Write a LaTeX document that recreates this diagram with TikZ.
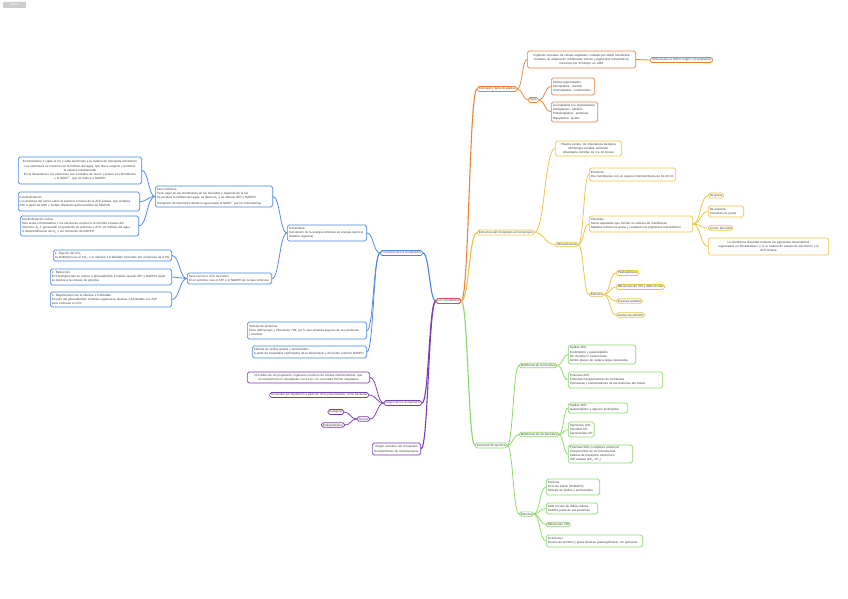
\documentclass[tikz,border=0pt]{standalone}
\usepackage{fontspec}
\setmainfont{Liberation Sans}
\usetikzlibrary{calc}
\definecolor{txt}{HTML}{3C3C3C}
\definecolor{oc}{HTML}{E8843C}
\definecolor{yc}{HTML}{E9C440}
\definecolor{gc}{HTML}{8AD867}
\definecolor{pc}{HTML}{7B3CB8}
\definecolor{bc}{HTML}{4B87E2}
\definecolor{rc}{HTML}{D94A60}
\newcommand{\fs}{\fontsize{3}{4.2}\selectfont}
\newcommand{\sbs}[1]{\textsubscript{#1}}
\newcommand{\Rgt}[3]{\draw[ln=#1] (#2.east) to[sc] (#3.west);}
\newcommand{\Lft}[3]{\draw[ln=#1] (#2.west) to[sc] (#3.east);}
\begin{document}
\begin{tikzpicture}[x=1pt,y=-1pt,
 bx/.style={draw=#1, rounded corners=1.8pt, fill=white, line width=0.7pt, inner xsep=1.4pt, inner ysep=1.1pt, font=\fs, text=txt, align=left, anchor=west},
 cb/.style={bx=#1, align=center},
 ln/.style={draw=#1, line width=0.75pt},
 mln/.style={draw=#1, line width=1.1pt},
 sc/.style={to path={let \p1=(\tikztostart), \p2=(\tikztotarget) in .. controls ({0.5*\x1+0.5*\x2},\y1) and ({0.5*\x1+0.5*\x2},\y2) .. (\p2)}}
]
\fill[white] (0,0) rectangle (848,599);
\useasboundingbox (0,0) rectangle (848,599);

% logo
\node[fill=black!20, text=white, font=\fontsize{2.6}{3}\selectfont, inner sep=0.8pt, minimum width=23pt, minimum height=6pt, anchor=west, rounded corners=0.6pt] (logo) at (3,5) {XMIND};

% central
\node[bx=rc, line width=0.9pt, anchor=center] (C) at (448.5,301) {Los cloroplastos};

% ---------- orange
\node[bx=oc] (oC) at (477,89) {Concepto y tipos de plastos};
\node[cb=oc, text width=105.5pt, minimum height=17pt] (oT) at (527,59.5) {Orgánulo exclusivo de células vegetales, rodeado por doble membrana\\ Contiene un sistema de membranas interno y pigmentos fotosintéticos\\ Descritos por Schimper en 1883};
\node[bx=oc] (oR) at (650,60) {Todos tienen el mismo origen: los proplastos};
\node[bx=oc] (oTi) at (528,100) {Tipos};
\node[bx=oc, text width=40.5pt, minimum height=17pt] (oP) at (551,86.5) {Plastos pigmentados\\ Cloroplastos: clorofila\\ Cromoplastos: carotenoides};
\node[bx=oc, text width=43.5pt, minimum height=20pt] (oN) at (551,112) {Leucoplastos (no pigmentados)\\ Amiloplastos: almidón\\ Proteinoplastos: proteínas\\ Oleoplastos: lípidos};

% ---------- yellow
\node[bx=yc] (yE) at (477,232.5) {Estructura del cloroplasto al microscopio};
\node[cb=yc, text width=63.5pt, minimum height=15pt] (yT) at (555,148.5) {Plastos verdes, de importancia biológica\\ Morfología variable, lenticular\\ Abundante clorofila; de 4 a 10 micras};
\node[bx=yc] (yU) at (555,244.5) {Ultraestructura};
\node[bx=yc, text width=83.5pt, minimum height=13pt] (yEn) at (589,174.5) {Envoltura\\ Dos membranas con un espacio intermembrana de 10-20 nm};
\node[bx=yc, text width=100.5pt, minimum height=16pt] (yTi) at (589,224) {Tilacoides\\ Sacos aplanados que forman un sistema de membranas\\ Apilados forman los grana y contienen los pigmentos fotosintéticos};
\node[bx=yc] (yG) at (708,195.5) {De grana};
\node[bx=yc, text width=32.5pt, minimum height=11pt] (yDe) at (708,211.5) {De estroma\\ Conectan los grana};
\node[bx=yc] (yEs) at (708,228) {Lumen tilacoidal};
\node[cb=yc, text width=117.5pt, minimum height=17pt] (yB) at (708,246.5) {La membrana tilacoidal contiene los pigmentos fotosintéticos\\ organizados en fotosistemas I y II, la cadena de transporte electrónico y la\\ ATP-sintasa};
\node[bx=yc] (ySt) at (589,294.5) {Estroma};
\node[bx=yc] (yP1) at (616,273) {Plastoglóbulos};
\node[bx=yc] (yP2) at (616,287) {Ribosomas de 70S y ADN circular};
\node[bx=yc] (yP3) at (616,301) {Enzimas solubles};
\node[bx=yc] (yP4) at (616,315) {Granos de almidón};

% ---------- green
\node[bx=gc] (gC) at (475,445.5) {Composición química};
\node[bx=gc] (gM1) at (519,365.5) {Membrana de la envoltura};
\node[bx=gc, text width=64.5pt, minimum height=19pt] (gL1) at (568,354.5) {Lípidos 40\%\\ Fosfolípidos y galactolípidos\\ Sin clorofila ni carotenoides\\ Ácidos grasos de cadena larga insaturados};
\node[bx=gc, text width=91.5pt, minimum height=16pt] (gP1) at (568,380) {Proteínas 60\%\\ Proteínas transportadoras de membrana\\ Permeasas y translocadores de las proteínas del citosol};
\node[bx=gc] (gM2) at (519,434.5) {Membrana de los tilacoides};
\node[bx=gc, text width=56.5pt, minimum height=10pt] (gL2) at (568,408) {Lípidos 38\%\\ Galactolípidos y algunos fosfolípidos};
\node[bx=gc, minimum height=15pt] (gPg) at (568,429.5) {Pigmentos 12\%\\ Clorofilas 8\%\\ Carotenoides 4\%};
\node[bx=gc, text width=61.5pt, minimum height=18pt] (gPr) at (568,454) {Proteínas 50\% (complejos proteicos)\\ Componentes de los fotosistemas\\ Cadena de transporte electrónico\\ ATP-sintasa (CF\sbs{0}-CF\sbs{1})};
\node[bx=gc] (gS) at (519,514) {Estroma};
\node[bx=gc, text width=50.5pt, minimum height=16pt] (gS1) at (546,487) {Enzimas\\ Ciclo de Calvin (RuBisCO)\\ Síntesis de lípidos y aminoácidos};
\node[bx=gc, text width=48.5pt, minimum height=11pt] (gS2) at (546,508.5) {ADN circular de doble cadena\\ Codifica parte de sus proteínas};
\node[bx=gc] (gS3) at (546,524.5) {Ribosomas 70S};
\node[bx=gc, text width=93.5pt, minimum height=12pt] (gS4) at (546,541) {Inclusiones\\ Granos de almidón y gotas lipídicas (plastoglóbulos) con quinonas};

% ---------- purple
\node[bx=pc, anchor=east] (pO) at (422,403) {Origen de los cloroplastos};
\node[cb=pc, text width=119.5pt, minimum height=11pt] (pB1) at (247,377.5) {Proceden de los proplastos, orgánulos incoloros de células meristemáticas, que\\ se transforman en cloroplastos con la luz; en oscuridad forman etioplastos};
\node[bx=pc, anchor=east] (pB2) at (369,395) {Se dividen por bipartición a partir de otros preexistentes, como bacterias};
\node[bx=pc, anchor=east] (pT) at (370,419) {Teorías};
\node[bx=pc, anchor=east] (pA) at (344,412) {Autógena};
\node[bx=pc, anchor=east] (pE) at (345,425) {Endosimbiótica};
\node[cb=pc, text width=45.5pt, minimum height=12pt] (pF) at (372,449) {Origen evolutivo del cloroplasto\\ Endosimbiosis de cianobacterias};

% ---------- blue
\node[bx=bc, anchor=east] (bF) at (423,253) {Funciones de los cloroplastos};
\node[bx=bc, text width=76.5pt, minimum height=16pt] (bFo) at (287,233) {Fotosíntesis\\ Conversión de la energía luminosa en energía química\\ (materia orgánica)};
\node[bx=bc, text width=114.5pt, minimum height=21pt] (bFl) at (155,196.5) {Fase luminosa\\ Tiene lugar en las membranas de los tilacoides y depende de la luz\\ Se produce la fotólisis del agua, se libera O\sbs{2} y se obtiene ATP y NADPH\\ Transporte de electrones desde el agua hasta el NADP\textsuperscript{+} por los fotosistemas};
\node[cb=bc, text width=120.5pt, minimum height=27pt] (bA) at (18,170.5) {El fotosistema II capta la luz y cede electrones a la cadena de transporte electrónico\\ Los electrones se reponen con la fotólisis del agua, que libera oxígeno y protones\\ al espacio intratilacoidal\\ En el fotosistema I los electrones son excitados de nuevo y pasan a la ferredoxina\\ y al NADP\textsuperscript{+}, que se reduce a NADPH};
\node[bx=bc, text width=118.5pt, minimum height=19pt] (bB) at (18,201.5) {Fotofosforilación\\ Los protones del lumen salen al estroma a través de la ATP-sintasa, que sintetiza\\ ATP a partir de ADP y fosfato (hipótesis quimiosmótica de Mitchell)};
\node[bx=bc, text width=115.5pt, minimum height=20pt] (bC) at (20,226) {Fotofosforilación cíclica\\ Solo actúa el fotosistema I: los electrones vuelven a la clorofila a través del\\ citocromo b\sbs{6}-f, generando un gradiente de protones y ATP, sin fotólisis del agua\\ ni desprendimiento de O\sbs{2} y sin formación de NADPH};
\node[bx=bc, text width=81.5pt, minimum height=11pt] (bFo2) at (187,278.5) {Fase oscura o ciclo de Calvin\\ En el estroma; usa el ATP y el NADPH de la fase luminosa};
\node[bx=bc, text width=115.5pt, minimum height=11pt] (b1) at (53,255.5) {1. Fijación del CO\sbs{2}\\ La RuBisCO une el CO\sbs{2} a la ribulosa 1,5-bifosfato formando dos moléculas de 3-PG};
\node[bx=bc, text width=118.5pt, minimum height=16pt] (b2) at (50,277) {2. Reducción\\ El 3-fosfoglicerato se reduce a gliceraldehído 3-fosfato usando ATP y NADPH; parte\\ se destina a la síntesis de glúcidos};
\node[bx=bc, text width=118.5pt, minimum height=15pt] (b3) at (50,299.5) {3. Regeneración de la ribulosa 1,5-bifosfato\\ El resto del gliceraldehído 3-fosfato regenera la ribulosa 1,5-bifosfato con ATP\\ para continuar el ciclo};
\node[bx=bc, text width=116.5pt, minimum height=17pt] (bS) at (247,330.5) {Síntesis de proteínas\\ Tiene ADN propio y ribosomas 70S, por lo que sintetiza algunas de sus proteínas\\ y enzimas};
\node[bx=bc, text width=111.5pt, minimum height=12pt] (bS2) at (252,352) {Síntesis de ácidos grasos y aminoácidos\\ A partir de esqueletos carbonados de la fotosíntesis y del poder reductor NADPH};

% ---------- main connectors
\draw[mln=oc] (C.east) to[sc] (oC.west);
\draw[mln=yc] (C.east) to[sc] (yE.west);
\draw[mln=gc] (C.east) to[sc] (gC.west);
\draw[mln=bc] (C.west) to[sc] (bF.east);
\draw[mln=pc] (C.west) to[sc] (pO.east);
\draw[mln=pc] (C.west) to[sc] (pF.east);

% ---------- sub connectors
\Rgt{oc}{oC}{oT} \Rgt{oc}{oC}{oTi} \Rgt{oc}{oT}{oR} \Rgt{oc}{oTi}{oP} \Rgt{oc}{oTi}{oN}
\Rgt{yc}{yE}{yT} \Rgt{yc}{yE}{yU} \Rgt{yc}{yU}{yEn} \Rgt{yc}{yU}{yTi} \Rgt{yc}{yU}{ySt}
\Rgt{yc}{yTi}{yG} \Rgt{yc}{yTi}{yDe} \Rgt{yc}{yTi}{yEs} \Rgt{yc}{yTi}{yB}
\Rgt{yc}{ySt}{yP1} \Rgt{yc}{ySt}{yP2} \Rgt{yc}{ySt}{yP3} \Rgt{yc}{ySt}{yP4}
\Rgt{gc}{gC}{gM1} \Rgt{gc}{gC}{gM2} \Rgt{gc}{gC}{gS}
\Rgt{gc}{gM1}{gL1} \Rgt{gc}{gM1}{gP1}
\Rgt{gc}{gM2}{gL2} \Rgt{gc}{gM2}{gPg} \Rgt{gc}{gM2}{gPr}
\Rgt{gc}{gS}{gS1} \Rgt{gc}{gS}{gS2} \Rgt{gc}{gS}{gS3} \Rgt{gc}{gS}{gS4}
\Lft{pc}{pO}{pB1} \Lft{pc}{pO}{pB2} \Lft{pc}{pO}{pT}
\Lft{pc}{pT}{pA} \Lft{pc}{pT}{pE}
\Lft{bc}{bF}{bFo} \Lft{bc}{bF}{bS} \Lft{bc}{bF}{bS2}
\Lft{bc}{bFo}{bFl} \Lft{bc}{bFo}{bFo2}
\Lft{bc}{bFl}{bA} \Lft{bc}{bFl}{bB} \Lft{bc}{bFl}{bC}
\Lft{bc}{bFo2}{b1} \Lft{bc}{bFo2}{b2} \Lft{bc}{bFo2}{b3}
\end{tikzpicture}
\end{document}
